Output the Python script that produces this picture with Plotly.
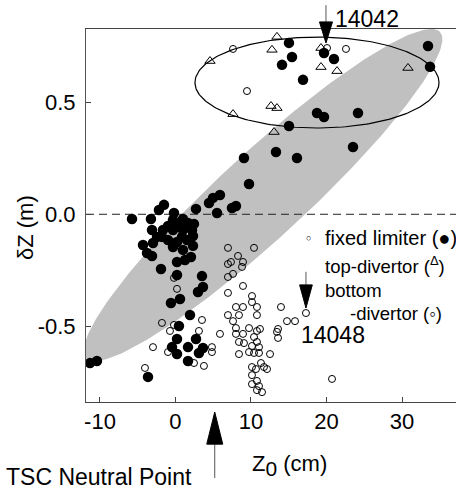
import numpy as np
import plotly.graph_objects as go

# ---------------- data ----------------
# fixed limiter (filled circles)
lim_x = [15.03, 15.43, 14.11, 16.89, 19.67, 20.99, 33.44, 33.71, 18.74, 19.67, 24.17, 15.03,
         9.07, 13.31, 16.09, 23.51, 9.74, 5.89, 7.48, 8.01, 4.97, 4.44, 5.50, 2.72, -1.52,
         -2.19, -0.20, -5.76, -3.25, -3.11, -2.45, -1.66, -0.99, -0.33, 0.33, 0.99, 1.66,
         2.19, 0.86, -0.99, 0.20, 1.52, 2.32, -2.98, -1.79, -4.30, -3.77, -3.11, -0.33, 0.99,
         2.32, -1.92, 0.20, 1.26, 2.05, 0.20, 3.51, 3.64, 2.98, -0.60, 0.60, 1.92, 0.46, 0.20,
         -0.46, 0.20, 1.66, 2.72, 3.64, 3.11, 1.66, -11.32, -10.40, -3.64, -0.33, 0.99, 2.45]
lim_y = [0.765, 0.702, 0.667, 0.600, 0.720, 0.693, 0.751, 0.658, 0.452, 0.434, 0.452, 0.394,
         0.251, 0.278, 0.251, 0.300, 0.135, 0.086, 0.028, 0.037, 0.073, 0.050, 0.006, 0.024, 0.042,
         0.019, 0.006, -0.021, -0.021, -0.070, -0.101, -0.070, -0.052, -0.070, -0.048, -0.070, -0.039,
         -0.070, -0.101, -0.115, -0.124, -0.115, -0.097, -0.128, -0.101, -0.137, -0.173, -0.186, -0.146, -0.159,
         -0.141, -0.244, -0.213, -0.204, -0.191, -0.271, -0.276, -0.325, -0.347, -0.396, -0.378, -0.450, -0.499, -0.557,
         -0.593, -0.624, -0.593, -0.557, -0.597, -0.619, -0.655, -0.664, -0.655, -0.726, -0.025, -0.021, -0.043]

# top-divertor (open triangles)
top_x = [13.44, 12.78, 4.57, 19.27, 19.27, 21.39, 30.79, 12.65, 13.44, 7.62, 13.05]
top_y = [0.792, 0.734, 0.684, 0.742, 0.657, 0.639, 0.653, 0.483, 0.474, 0.447, 0.367]

# bottom-divertor (open circles)
bot_x = [7.62, 9.47, 20.07, 22.58,
         -0.20, 0.20, -1.79, -0.20, -0.73, 3.51, 3.11, -2.98, -0.99, 4.83, 4.83, 2.45, 3.77, -4.04, 5.89,
         6.95, 10.40, 8.28, 7.35, 6.95, 8.94, 8.81, 7.62, 6.95, 8.94, 6.95, 10.13, 10.13, 8.01, 8.94,
         10.79, 13.97, 6.95, 8.41, 10.79, 7.62, 14.77, 15.83, 17.28, 8.01, 9.74, 11.19, 13.58, 8.94,
         10.79, 10.40, 8.01, 8.41, 9.07, 10.13, 10.79, 11.06, 9.74, 10.40, 11.06, 8.41, 12.52, 10.13,
         10.66, 11.32, 11.72, 12.12, 10.13, 10.79, 10.13, 11.06, 10.79, 11.46, 13.58, 13.44, 20.73]
bot_y = [0.738, 0.550, 0.742, 0.738,
         -0.284, -0.333, -0.485, -0.494, -0.521, -0.472, -0.521, -0.593, -0.615, -0.593, -0.615, -0.664, -0.677, -0.686, -0.534,
         -0.150, -0.150, -0.186, -0.213, -0.222, -0.213, -0.235, -0.266, -0.280, -0.320, -0.351, -0.365, -0.392, -0.414, -0.414,
         -0.414, -0.414, -0.450, -0.450, -0.450, -0.477, -0.477, -0.477, -0.441, -0.508, -0.508, -0.512, -0.512, -0.534,
         -0.521, -0.548, -0.534, -0.570, -0.575, -0.588, -0.570, -0.593, -0.615, -0.619, -0.619, -0.624, -0.624, -0.682,
         -0.691, -0.664, -0.682, -0.691, -0.718, -0.744, -0.758, -0.767, -0.785, -0.794, -0.552, -0.525, -0.735]

x_ticks = [-10, 0, 10, 20, 30]
x_tick_text = ["-10", "0", "10", "20", "30"]
y_ticks = [-0.5, 0.0, 0.5]
y_tick_text = ["-0.5", "0.0", "0.5"]

X_RANGE = [-11.85, 37.15]
Y_RANGE = [-0.838, 0.827]

# gray tilted ellipse: center, half major vector, half minor vector (data units)
G_C = (11.59, 0.086)
G_A = (23.44, 0.728)
G_B = (3.85, -0.141)
# open ellipse around the top group
E_C = (18.74, 0.588)
E_R = (16.16, 0.203)

FONT = "Liberation Sans, Arial, Helvetica, sans-serif"

t = np.linspace(0, 2 * np.pi, 241)
gx = G_C[0] + G_A[0] * np.cos(t) + G_B[0] * np.sin(t)
gy = G_C[1] + G_A[1] * np.cos(t) + G_B[1] * np.sin(t)
ex = E_C[0] + E_R[0] * np.cos(t)
ey = E_C[1] + E_R[1] * np.sin(t)

fig = go.Figure()
fig.add_trace(go.Scatter(x=gx, y=gy, mode="lines", fill="toself", fillcolor="#c0c0c0",
                         line=dict(width=0, color="#c0c0c0"), hoverinfo="skip", showlegend=False))
fig.add_trace(go.Scatter(x=X_RANGE, y=[0, 0], mode="lines",
                         line=dict(color="#222", width=1, dash="8px,5px"), showlegend=False))
fig.add_trace(go.Scatter(x=ex, y=ey, mode="lines", line=dict(color="black", width=1.2), showlegend=False))
fig.add_trace(go.Scatter(x=bot_x, y=bot_y, mode="markers",
                         marker=dict(symbol="circle-open", size=7, color="black", line=dict(width=1)),
                         showlegend=False))
fig.add_trace(go.Scatter(x=top_x, y=top_y, mode="markers",
                         marker=dict(symbol="triangle-up-open", size=9, color="black", line=dict(width=1)),
                         showlegend=False))
fig.add_trace(go.Scatter(x=lim_x, y=lim_y, mode="markers",
                         marker=dict(symbol="circle", size=10.5, color="black", line=dict(width=0)),
                         showlegend=False))

# arrows: x in data units, y in paper units (tip, head base, tail), head half-width in data units
arrows = [
    dict(x=5.2, tip=-0.027, base=-0.113, tail=-0.204, hw=1.06),
    dict(x=19.93, tip=0.9625, base=1.019, tail=1.064, hw=0.86),
    dict(x=17.28, tip=0.252, base=0.314, tail=0.349, hw=0.84),
]
shapes = []
for a in arrows:
    shapes.append(dict(type="line", xref="x", yref="paper", x0=a["x"], x1=a["x"],
                       y0=a["base"], y1=a["tail"], line=dict(color="#555", width=1)))
    shapes.append(dict(type="path", xref="x", yref="paper",
                       path=f"M {a['x']-a['hw']},{a['base']} L {a['x']+a['hw']},{a['base']} L {a['x']},{a['tip']} Z",
                       fillcolor="black", line=dict(color="black", width=1)))

ann = [
    dict(text="δZ (m)", x=-0.165, y=0.469, textangle=-90, font=dict(size=22)),
    dict(text="Z<sub><span style='font-size:21px'>0</span></sub> (cm)", x=0.551, y=-0.169, font=dict(size=22)),
    dict(text="TSC Neutral Point", x=-0.222, y=-0.202, xanchor="left", font=dict(size=23)),
    dict(text="14042", x=0.668, y=1.027, xanchor="left", font=dict(size=23)),
    dict(text="14048", x=0.576, y=0.180, xanchor="left", font=dict(size=23)),
    dict(text="○", x=0.6, y=0.4397, font=dict(size=9)),
    dict(text="fixed limiter (●)", x=0.6405, y=0.4397, xanchor="left", font=dict(size=20)),
    dict(text="top-divertor (<sup>Δ</sup>)", x=0.6405, y=0.366, xanchor="left", font=dict(size=18.5)),
    dict(text="bottom", x=0.6405, y=0.2976, xanchor="left", font=dict(size=18.5)),
    dict(text="-divertor (◦)", x=0.708, y=0.236, xanchor="left", font=dict(size=18.5)),
]
annotations = []
for a in ann:
    d = dict(xref="paper", yref="paper", showarrow=False, xanchor=a.get("xanchor", "center"),
             yanchor="middle", font=dict(family=FONT, color="black", size=a["font"]["size"]))
    d.update({k: v for k, v in a.items() if k not in ("font", "xanchor")})
    annotations.append(d)

fig.update_layout(
    width=456, height=489,
    margin=dict(l=86, r=0, t=29, b=87, pad=0),
    paper_bgcolor="white", plot_bgcolor="white",
    font=dict(family=FONT, color="black", size=22),
    shapes=shapes, annotations=annotations, showlegend=False,
)
fig.update_xaxes(range=X_RANGE, tickvals=x_ticks, ticktext=x_tick_text, ticks="inside", ticklen=5,
                 tickcolor="#444", showline=True, linecolor="#444", linewidth=1, mirror=True,
                 showgrid=False, zeroline=False, ticklabelstandoff=0,
                 tickfont=dict(size=22, family=FONT, color="black"))
fig.update_yaxes(range=Y_RANGE, tickvals=y_ticks, ticktext=y_tick_text, ticks="inside", ticklen=5,
                 tickcolor="#444", showline=True, linecolor="#555", linewidth=1, mirror=False,
                 showgrid=False, zeroline=False, ticklabelstandoff=5,
                 tickfont=dict(size=22, family=FONT, color="black"))

fig.write_html("out.html")
